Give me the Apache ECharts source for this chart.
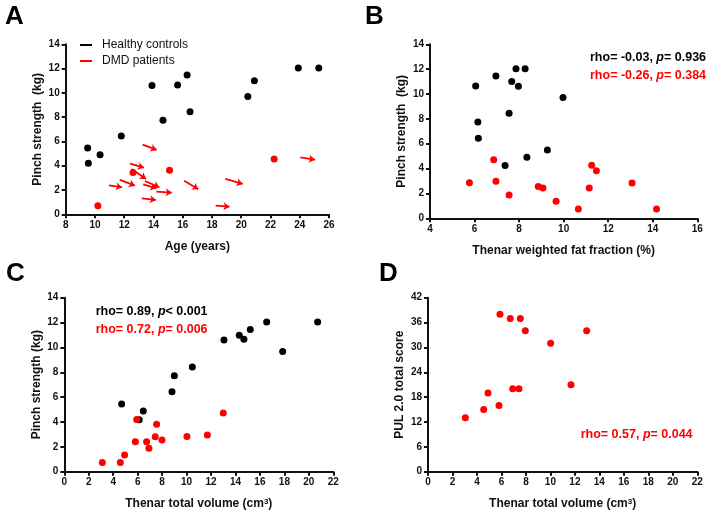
<!DOCTYPE html>
<html><head><meta charset="utf-8">
<script src="https://cdn.jsdelivr.net/npm/echarts@6/dist/echarts.min.js"></script>
<style>html,body{margin:0;padding:0;background:#fff}#c{width:709px;height:519px}</style>
</head><body><div id="c"></div>
<script>
// Panel A: age vs pinch strength
const healthyAge    = [9.5, 9.55, 10.35, 11.8, 13.9, 14.65, 15.65, 16.3, 16.5, 20.45, 20.9, 23.9, 25.3];
const healthyPinchA = [5.46, 4.2, 4.9, 6.45, 10.6, 7.75, 10.65, 11.47, 8.45, 9.7, 11.0, 12.05, 12.05];
const dmdAge        = [10.2, 12.6, 15.1, 22.25];
const dmdPinchA     = [0.7, 3.45, 3.62, 4.56];
// DMD longitudinal arrows: [age start, pinch start, age end, pinch end]
const dmdArrows = [
  [13.26, 5.74, 14.22, 5.30],
  [12.4, 4.17, 13.35, 3.84],
  [10.96, 2.39, 11.85, 2.22],
  [11.7, 2.83, 12.74, 2.36],
  [12.51, 3.73, 13.49, 2.9],
  [13.42, 2.74, 14.4, 2.22],
  [13.3, 2.47, 14.2, 2.14],
  [14.2, 1.86, 15.25, 1.78],
  [13.2, 1.32, 14.17, 1.18],
  [16.1, 2.77, 17.07, 2.06],
  [18.25, 0.71, 19.2, 0.63],
  [18.91, 2.91, 20.1, 2.5],
  [24.04, 4.69, 25.04, 4.5]
];
// Panel B: fat fraction vs pinch strength
const healthyFat    = [6.05, 6.15, 6.17, 6.96, 7.37, 7.55, 7.67, 7.86, 7.97, 8.27, 8.35, 9.27, 9.97];
const healthyPinchB = [10.65, 7.75, 6.44, 11.45, 4.24, 8.45, 11.0, 12.04, 10.62, 12.04, 4.91, 5.5, 9.71];
const dmdFat        = [5.77, 6.86, 6.96, 7.55, 8.86, 9.07, 9.66, 10.66, 11.15, 11.26, 11.47, 13.07, 14.17];
const dmdPinchB     = [2.87, 4.72, 2.98, 1.88, 2.55, 2.44, 1.37, 0.75, 2.44, 4.26, 3.83, 2.84, 0.75];
// Panel C: thenar volume vs pinch strength
const healthyVol    = [4.69, 6.13, 6.46, 8.81, 9.0, 10.47, 13.06, 14.31, 14.69, 15.21, 16.55, 17.86, 20.72];
const healthyPinchC = [5.44, 4.18, 4.88, 6.44, 7.72, 8.42, 10.59, 10.97, 10.65, 11.45, 12.04, 9.68, 12.04];
const dmdVol        = [3.11, 4.58, 4.93, 5.81, 5.92, 6.73, 6.92, 7.44, 7.55, 7.99, 10.03, 11.7, 13.0];
const dmdPinchC     = [0.75, 0.75, 1.34, 2.41, 4.21, 2.41, 1.88, 2.82, 3.81, 2.55, 2.84, 2.95, 4.72];
// Panel D: thenar volume vs PUL 2.0
const dmdVolD       = [3.05, 4.55, 4.9, 5.8, 5.88, 6.72, 6.92, 7.43, 7.54, 7.95, 10.02, 11.68, 12.96];
const dmdPUL        = [13, 15, 19, 16, 38, 37, 20, 20, 37, 34, 31, 21, 34];

const FONT = 'Arial, "Liberation Sans", Helvetica, sans-serif';
const RED = '#ff0000', BLACK = '#000000';
const zip = (a, b) => a.map((v, i) => [v, b[i]]);

const nameStyle = {
  fontFamily: FONT, fontWeight: 'bold', fontSize: 12, color: '#111',
  rich: {
    sup: { fontFamily: FONT, fontWeight: 'bold', fontSize: 8, color: '#111', verticalAlign: 'top', lineHeight: 8 }
  }
};
function xAx(grid, min, max, interval, name) {
  return {
    type: 'value', gridIndex: grid, min, max, interval,
    name, nameLocation: 'middle', nameGap: 26,
    nameTextStyle: nameStyle,
    axisLine: { show: true, onZero: false, lineStyle: { color: '#111', width: 2 } },
    axisTick: { show: true, length: 4, lineStyle: { color: '#111', width: 2 } },
    axisLabel: { fontFamily: FONT, fontWeight: 'bold', fontSize: 10, color: '#111', margin: 6 },
    splitLine: { show: false }
  };
}
function yAx(grid, min, max, interval, name) {
  return {
    type: 'value', gridIndex: grid, min, max, interval,
    name, nameLocation: 'middle', nameGap: 22,
    nameTextStyle: nameStyle,
    axisLine: { show: true, onZero: false, lineStyle: { color: '#111', width: 2 } },
    axisTick: { show: true, length: 4, lineStyle: { color: '#111', width: 2 } },
    axisLabel: { fontFamily: FONT, fontWeight: 'bold', fontSize: 10, color: '#111', margin: 6 },
    splitLine: { show: false }
  };
}
function dots(name, xi, data, color) {
  return { type: 'scatter', name, xAxisIndex: xi, yAxisIndex: xi, data, symbolSize: 7,
    itemStyle: { color, opacity: 1 }, emphasis: { disabled: true }, silent: true, z: 3 };
}

const rich = (size, color) => ({
  n: { fontFamily: FONT, fontWeight: 'bold', fontSize: size, fill: color },
  i: { fontFamily: FONT, fontWeight: 'bold', fontStyle: 'italic', fontSize: size, fill: color }
});
function note(x, y, parts, color) {
  return { type: 'text', left: x, top: y, style: {
    text: parts, rich: rich(12.5, color), fill: color,
    font: 'bold 12.5px ' + FONT } };
}
function panelLabel(x, y, t) {
  return { type: 'text', left: x, top: y, style: { text: t, fill: '#000', font: 'bold 26px ' + FONT } };
}

const option = {
  backgroundColor: '#fff',
  animation: false,
  grid: [
    { left: 65.7, top: 44.3, width: 263.3, height: 170 },
    { left: 430, top: 44.3, width: 267.3, height: 174 },
    { left: 64.3, top: 297.7, width: 269, height: 174 },
    { left: 428, top: 297.7, width: 269.3, height: 174 }
  ],
  xAxis: [
    xAx(0, 8, 26, 2, 'Age (years)'),
    xAx(1, 4, 16, 2, 'Thenar weighted fat fraction (%)'),
    xAx(2, 0, 22, 2, 'Thenar total volume (cm{sup|3})'),
    xAx(3, 0, 22, 2, 'Thenar total volume (cm{sup|3})')
  ],
  yAxis: [
    yAx(0, 0, 14, 2, 'Pinch strength  (kg)'),
    yAx(1, 0, 14, 2, 'Pinch strength  (kg)'),
    yAx(2, 0, 14, 2, 'Pinch strength (kg)'),
    yAx(3, 0, 42, 6, 'PUL 2.0 total score')
  ],
  legend: {
    data: ['Healthy controls', 'DMD patients'], orient: 'vertical',
    left: 80, top: 39, padding: 0, itemGap: 4, itemWidth: 12, itemHeight: 2, icon: 'rect',
    selectedMode: false,
    textStyle: { fontFamily: FONT, fontSize: 12, color: '#111', padding: [0, 0, 0, 5] }
  },
  series: [
    dots('Healthy controls', 0, zip(healthyAge, healthyPinchA), BLACK),
    dots('DMD patients', 0, zip(dmdAge, dmdPinchA), RED),
    {
      type: 'lines', coordinateSystem: 'cartesian2d', xAxisIndex: 0, yAxisIndex: 0,
      symbol: ['none', 'arrow'], symbolSize: 6, silent: true,
      lineStyle: { color: RED, width: 1.8, opacity: 1 },
      data: dmdArrows.map(a => ({ coords: [[a[0], a[1]], [a[2], a[3]]] }))
    },
    dots('', 1, zip(healthyFat, healthyPinchB), BLACK),
    dots('', 1, zip(dmdFat, dmdPinchB), RED),
    dots('', 2, zip(healthyVol, healthyPinchC), BLACK),
    dots('', 2, zip(dmdVol, dmdPinchC), RED),
    dots('', 3, zip(dmdVolD, dmdPUL), RED)
  ],
  graphic: [
    panelLabel(5, 4, 'A'),
    panelLabel(365, 4, 'B'),
    panelLabel(6, 261, 'C'),
    panelLabel(379, 261, 'D'),
    note(590, 51, '{n|rho= -0.03, }{i|p}{n|= 0.936}', BLACK),
    note(590, 69.5, '{n|rho= -0.26, }{i|p}{n|= 0.384}', RED),
    note(95.7, 305, '{n|rho= 0.89, }{i|p}{n|< 0.001}', BLACK),
    note(95.7, 323, '{n|rho= 0.72, }{i|p}{n|= 0.006}', RED),
    note(580.7, 428, '{n|rho= 0.57, }{i|p}{n|= 0.044}', RED)
  ]
};
const chart = echarts.init(document.getElementById('c'), null, { renderer: 'canvas' });
chart.setOption(option);
</script>
</body></html>
